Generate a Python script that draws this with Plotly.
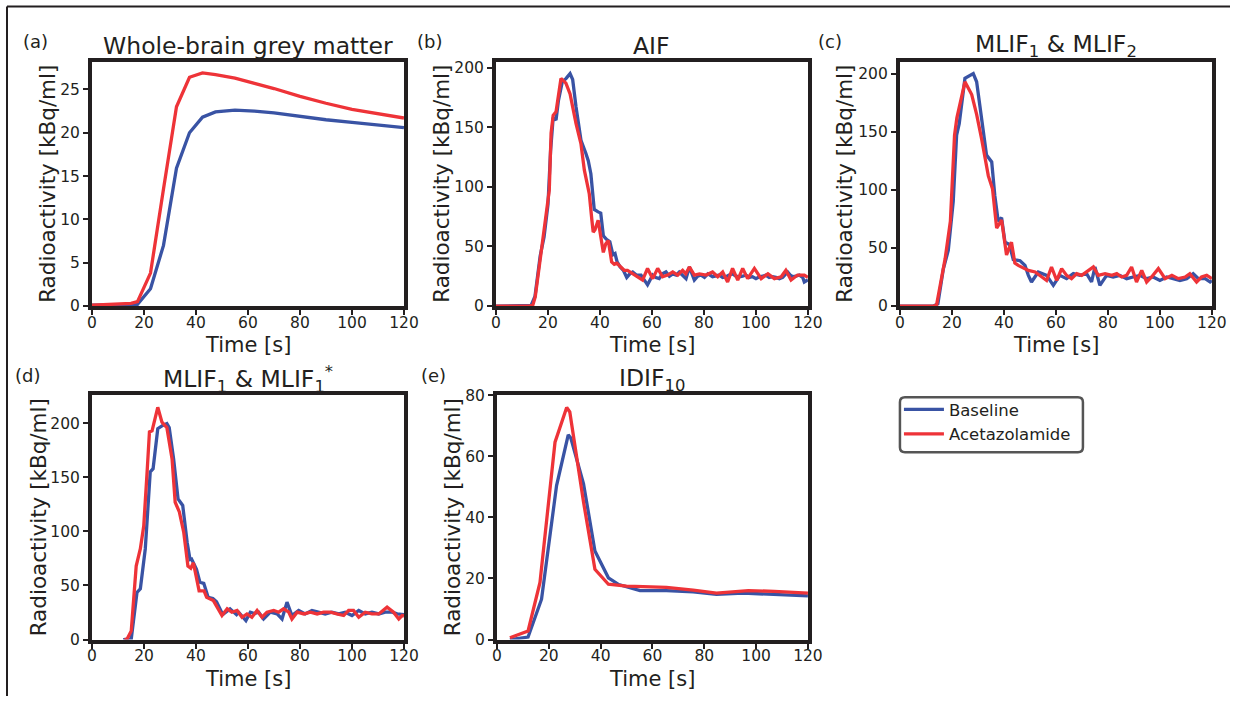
import plotly.graph_objects as go

BLUE = '#3953a4'
RED = '#ee3338'
INK = '#231f20'
FONT = 'DejaVu Sans'
W, H = 1245, 705
# the captured picture comes out slightly shrunk and shifted; positions below are in
# picture pixels and get mapped back to page pixels
SX, OX = 0.984, 5.0
SY, OY = 0.973, 7.4

# (a) whole-brain grey matter
a_t_base = [0, 10, 15, 17.5, 22.5, 27.5, 32.5, 37.5, 42.5, 47.5, 55, 62.5, 70, 80, 90, 100, 110, 120]
a_base = [0.1, 0.15, 0.2, 0.2, 2.0, 7.0, 15.9, 20.0, 21.8, 22.4, 22.6, 22.5, 22.3, 21.9, 21.5, 21.2, 20.9, 20.6]
a_t_acet = [0, 10, 15, 17.5, 22.5, 27.5, 32.5, 37.5, 42.5, 47.5, 55, 62.5, 70, 80, 90, 100, 110, 120]
a_acet = [0.1, 0.2, 0.3, 0.5, 3.8, 13.5, 23.0, 26.4, 26.9, 26.7, 26.3, 25.7, 25.1, 24.2, 23.4, 22.7, 22.2, 21.7]

# (b) AIF
b_t_base = [0, 12, 13.5, 15, 17, 18.5, 20, 21, 22, 23.1, 24, 25.5, 27, 28.5, 29.5, 30.8, 32.7, 34.6,
            35.5, 36.5, 37.8, 39.3, 40.3, 41.3, 42.5, 43.8, 45, 45.8, 46.6, 47.7, 49, 50.3, 51.5, 52.6,
            54, 55.8, 57, 58.3, 60.3, 61.5, 62.8, 64, 65.4, 66.7, 68, 69.3, 70.5, 71.8, 73.1, 74.4, 76.3,
            77.6, 78.9, 80.2, 81.5, 83.3, 84.6, 85.9, 87.2, 88.5, 89.7, 91, 92.3, 93.6, 94.9, 96.2, 97.4,
            98.7, 100, 101.3, 102.6, 103.8, 105.1, 106.4, 107.7, 109, 110.3, 112.2, 113.2, 114.1, 115.4,
            116.7, 118, 118.6, 120]
b_base = [0, 0, 0.5, 8, 42, 58, 85, 130, 158, 156, 172, 188, 191, 195, 190, 167, 139, 128,
          122, 111, 81, 79, 78, 59, 56, 54, 43, 44, 37, 33, 30, 24, 27, 28.6,
          26, 26, 22, 17.8, 26, 24, 23, 27, 28.6, 25, 27, 26, 28.6, 26, 23, 32.8, 21.8,
          25, 26, 24, 27, 24.6, 25, 26, 24, 24.6, 26, 27, 25, 24.6, 25, 26, 24,
          24.6, 23, 24.6, 25, 26, 24, 24.6, 24, 23, 24, 28.6, 26, 24.6, 25,
          26, 24, 20.2, 22]
b_t_acet = [0, 13, 14.2, 15.1, 17.3, 19.2, 20.5, 21.2, 22, 23.1, 25, 26.9, 28.5, 30.8, 32.7, 34,
            35.9, 36.9, 37.4, 38.1, 39.3, 41.3, 42.2, 43.2, 44.5, 45.5, 46.5, 48, 49.3, 50.6, 52, 53.8,
            55, 56.4, 58.3, 60.3, 62.2, 64.1, 66, 68, 69.9, 71.8, 73, 74.4, 76.3, 78.3, 80.8, 83.3,
            85.3, 87.2, 89.1, 91, 93, 94.9, 96.8, 99.4, 102, 104.6, 107.1, 109.7, 111.5, 113.5, 116,
            118.6, 120]
b_acet = [0, 0, 1, 7.6, 44, 78, 97, 145, 160, 163, 191, 187, 178, 153, 136, 114,
          94, 72, 62, 64, 72, 45, 52, 55, 37, 35, 36, 32.8, 30, 30, 28, 26,
          24, 21.8, 31.6, 23, 31.6, 24.6, 26, 28.6, 26, 30, 27, 32.8, 26, 27, 26, 28.6,
          24.6, 28.6, 20.2, 31.6, 21.8, 31.6, 23, 31.6, 23, 27, 23, 24.6, 30, 21.8, 26,
          26, 24]

# (c) MLIF1 & MLIF2
c_t_base = [0, 13, 14.6, 16.7, 18.6, 20.5, 21.8, 22.8, 25, 28.2, 29.5, 31.4, 33.3, 35.3, 36.5, 37.8,
            39.1, 40.4, 42.1, 43.6, 46.2, 48.1, 49.4, 50.6, 53.2, 56.4, 59, 61.5, 64.1, 66.7, 69.2,
            71.8, 73.7, 75, 76.9, 79.5, 82, 84.6, 87.2, 89.7, 92.3, 94.9, 97.4, 100, 102.6, 105.1,
            107.7, 110.3, 112.8, 114.8, 117.4, 119.3, 120]
c_base = [0, 0, 2, 32, 48, 90, 147, 157, 196, 200, 193, 161, 130, 124, 95, 73,
          76, 55, 53, 40, 39, 35, 26.4, 20.7, 29.3, 26.4, 17.8, 26.4, 23.6, 27.9, 26.4,
          27.9, 20.7, 33.6, 17.8, 26.4, 25, 26.4, 23.6, 25, 26.4, 23.6, 25, 22, 25, 23.6,
          22, 23.6, 27.9, 23.6, 23.6, 20.7, 22]
c_t_acet = [0, 13, 14.1, 15.4, 17.4, 19.4, 21, 21.9, 25, 27.6, 29.5, 31.4, 34, 35.6, 37.2, 39.1,
            41, 42.9, 44.2, 45.5, 47.5, 49.4, 52, 53.8, 56.4, 58.3, 60.3, 62.2, 64.1, 66, 68, 69.9,
            71.8, 74.4, 76.3, 78.9, 81.5, 83.4, 85.3, 87.2, 89.1, 91, 93, 94.9, 96.8, 99.4, 102,
            104.6, 107.1, 109.7, 111.5, 114.1, 116, 118, 120]
c_acet = [0, 0, 1, 18, 41, 73, 147, 162, 193, 182, 165, 144, 112, 101, 67, 74,
          44, 55, 37, 35, 33, 30.7, 29.3, 26.4, 22, 33.6, 22, 32.2, 26.4, 23.6, 27.9, 26.4,
          29.3, 33.6, 26.4, 27.9, 26.4, 27.9, 25, 26.4, 33.6, 20.7, 30.7, 20.7, 25, 32.2, 23.6,
          26.4, 23.6, 25, 27.9, 20.7, 25, 26.4, 23.6]

# (d) MLIF1 & MLIF1*
d_t_base = [12, 14, 15.1, 17.3, 18.6, 20.5, 22.4, 23.5, 25.3, 27.2, 28.8, 29.7, 31.4, 33.1, 34.9,
            36.6, 37.7, 38.3, 40.2, 41.5, 43, 44.7, 46.5, 47.9, 49.9, 50.6, 53.1, 55.6, 56.4, 59.2,
            60.9, 62.5, 64.1, 66, 68.6, 71.2, 73.1, 75, 76.9, 79.5, 82, 84.6, 87.2, 89.7, 92.3,
            94.9, 97.4, 100, 102.6, 105.1, 107.7, 110.3, 112.8, 115.4, 117.4, 119.3, 120]
d_base = [0, 0, 0.5, 43.5, 47, 84, 155, 158, 195, 198, 199.7, 196, 167, 130, 124,
          90, 74, 74.5, 65, 53, 52, 39, 38, 35, 25, 23.7, 28.4, 23, 25.3, 17.5,
          25.3, 24, 25.3, 19, 25.3, 23.7, 19, 34.6, 22.2, 26.9, 23.7, 26.9, 25.3, 23.7, 25.3,
          23.7, 25.3, 22.2, 26.9, 23.7, 25.3, 23.7, 25.3, 25.3, 23.7, 23.7, 23]
d_t_acet = [12.5, 13.5, 15.1, 17, 18.6, 19.9, 21.2, 22.1, 23.1, 25.3, 26.9, 28.8, 30.8, 32, 33.6,
            35.3, 36.9, 38, 39, 41.2, 43.1, 44.1, 46.7, 49.2, 50, 52, 53.8, 55.8, 57.7, 59.6, 61.5,
            63.5, 65.4, 67.3, 69.9, 71.8, 73.7, 75.7, 76.9, 78.9, 81.5, 84, 86.6, 89.1, 91.7, 94.2,
            96.8, 98.7, 100.6, 102.6, 105.1, 107.7, 110.3, 113.5, 116, 118, 119.3, 120]
d_acet = [0, 0.5, 8, 68, 84, 105, 155, 192, 193, 214.8, 201, 196, 167, 127, 118,
          99, 68, 66, 71, 45, 45, 39, 36, 26.5, 22.2, 28.4, 25.3, 26.9, 20.6, 23.7, 20.6,
          26.9, 20.6, 25.3, 26.9, 25.3, 28.4, 25.3, 19, 25.3, 23.7, 25.3, 23.7, 25.3, 25.3, 23.7,
          22.2, 26.9, 26.9, 20.6, 25.3, 23.7, 23.7, 30, 25.3, 19, 22.2, 22]

# (e) IDIF10
e_t_base = [5, 12, 17.2, 23, 27.5, 28.5, 33.4, 37.8, 43, 47, 55.2, 65.4, 75.7, 84.7, 95, 107, 120]
e_base = [0, 0.8, 13.2, 50.4, 67, 66, 51, 29, 20.2, 18, 16, 16, 15.6, 14.8, 15.2, 14.8, 14.3]
e_t_acet = [5, 12, 16.6, 22.4, 26.9, 28.1, 33.4, 37.8, 43, 50, 56.4, 65.4, 75.7, 84.7, 97, 107, 120]
e_acet = [0.6, 2.8, 18.7, 64.6, 76, 74.5, 45, 23, 18.1, 17.5, 17.3, 17.1, 16.2, 15.2, 16, 15.8, 15.2]

x_ticks = [0, 20, 40, 60, 80, 100, 120]

# letter, title, data, y max, y dtick, plot box px (left, right, top, bottom), y-title x, letter x
panels = [
    ('(a)', 'Whole-brain grey matter', (a_t_base, a_base, a_t_acet, a_acet), 28.2, 5,
     (92, 404, 60, 304), 48, 36),
    ('(b)', 'AIF', (b_t_base, b_base, b_t_acet, b_acet), 205, 50,
     (496, 808, 60, 304), 442, 430),
    ('(c)', 'MLIF<sub>1</sub> &amp; MLIF<sub>2</sub>', (c_t_base, c_base, c_t_acet, c_acet), 210.3, 50,
     (900, 1212, 60, 304), 845, 830),
    ('(d)', 'MLIF<sub>1</sub> &amp; MLIF<sub>1</sub><sup>*</sup>', (d_t_base, d_base, d_t_acet, d_acet), 226, 50,
     (92, 404, 393, 637), 38, 28),
    ('(e)', 'IDIF<sub>10</sub>', (e_t_base, e_base, e_t_acet, e_acet), 80, 20,
     (497, 808, 393, 637), 452, 434),
]


def fx(x):
    return (x - OX) / SX / W


def fy(y):
    return 1 - (y - OY) / SY / H


fig = go.Figure()
annotations = []
axis_style = dict(
    showline=True, mirror=True, linewidth=4, linecolor=INK,
    ticks='outside', ticklen=5, tickwidth=2, tickcolor=INK,
    showgrid=False, zeroline=False,
    tickfont=dict(family=FONT, size=15.5, color=INK),
)


def label(text, x, y, size, **kw):
    return dict(text=text, x=fx(x), y=fy(y), xref='paper', yref='paper', showarrow=False,
                xanchor='center', yanchor='middle', font=dict(family=FONT, size=size, color=INK), **kw)


for i, (letter, title, data, ymax, dtick, box, ytitle_x, letter_x) in enumerate(panels):
    n = '' if i == 0 else str(i + 1)
    t_base, base, t_acet, acet = data
    left, right, top, bottom = box
    fig.add_trace(go.Scatter(x=t_base, y=base, mode='lines', name='Baseline',
                             line=dict(color=BLUE, width=3.3), xaxis='x' + n, yaxis='y' + n,
                             legendgroup='base', showlegend=(i == 0)))
    fig.add_trace(go.Scatter(x=t_acet, y=acet, mode='lines', name='Acetazolamide',
                             line=dict(color=RED, width=3.3), xaxis='x' + n, yaxis='y' + n,
                             legendgroup='acet', showlegend=(i == 0)))
    fig.layout['xaxis' + n] = dict(axis_style, domain=[fx(left), fx(right)], range=[0, 120],
                                   tickvals=x_ticks, anchor='y' + n, ticklabelstandoff=-6)
    fig.layout['yaxis' + n] = dict(axis_style, domain=[fy(bottom), fy(top)], range=[0, ymax],
                                   dtick=dtick, tick0=0, anchor='x' + n)

    cx = (left + right) / 2
    cy = (top + bottom) / 2
    annotations += [
        label(letter, letter_x, top - 20, 18),
        label(title, cx, top - 16, 23.5),
        label('Time [s]', cx, bottom + 39, 21),
        label('Radioactivity [kBq/ml]', ytitle_x, cy, 21.5, textangle=-90),
    ]


def rounded_rect(x0, y0, x1, y1, r):
    # path in paper coords from a pixel box
    def p(x, y):
        return f'{fx(x):.5f},{fy(y):.5f}'
    return (f'M {p(x0 + r, y0)} L {p(x1 - r, y0)} Q {p(x1, y0)} {p(x1, y0 + r)} '
            f'L {p(x1, y1 - r)} Q {p(x1, y1)} {p(x1 - r, y1)} L {p(x0 + r, y1)} '
            f'Q {p(x0, y1)} {p(x0, y1 - r)} L {p(x0, y0 + r)} Q {p(x0, y0)} {p(x0 + r, y0)} Z')


shapes = [
    dict(type='line', xref='paper', yref='paper', x0=fx(7), x1=1, y0=fy(5), y1=fy(5),
         line=dict(color=INK, width=2)),
    dict(type='line', xref='paper', yref='paper', x0=fx(7), x1=fx(7), y0=0, y1=fy(5),
         line=dict(color=INK, width=2)),
    dict(type='path', xref='paper', yref='paper', path=rounded_rect(900, 395, 1083, 450, 5),
         line=dict(color='#555555', width=2.5)),
]

fig.update_layout(
    width=W, height=H,
    margin=dict(l=0, r=0, t=0, b=0),
    paper_bgcolor='white', plot_bgcolor='white',
    font=dict(family=FONT, color=INK),
    annotations=annotations,
    shapes=shapes,
    showlegend=True,
    legend=dict(x=fx(899), y=fy(390), xanchor='left', yanchor='top',
                bgcolor='rgba(0,0,0,0)', borderwidth=0, font=dict(size=16.5, color=INK, family=FONT),
                tracegroupgap=0, itemwidth=40),
)

fig.write_html("out.html", config={'displayModeBar': False},
               post_script="document.body.style.margin='0';document.body.style.overflow='hidden';")
